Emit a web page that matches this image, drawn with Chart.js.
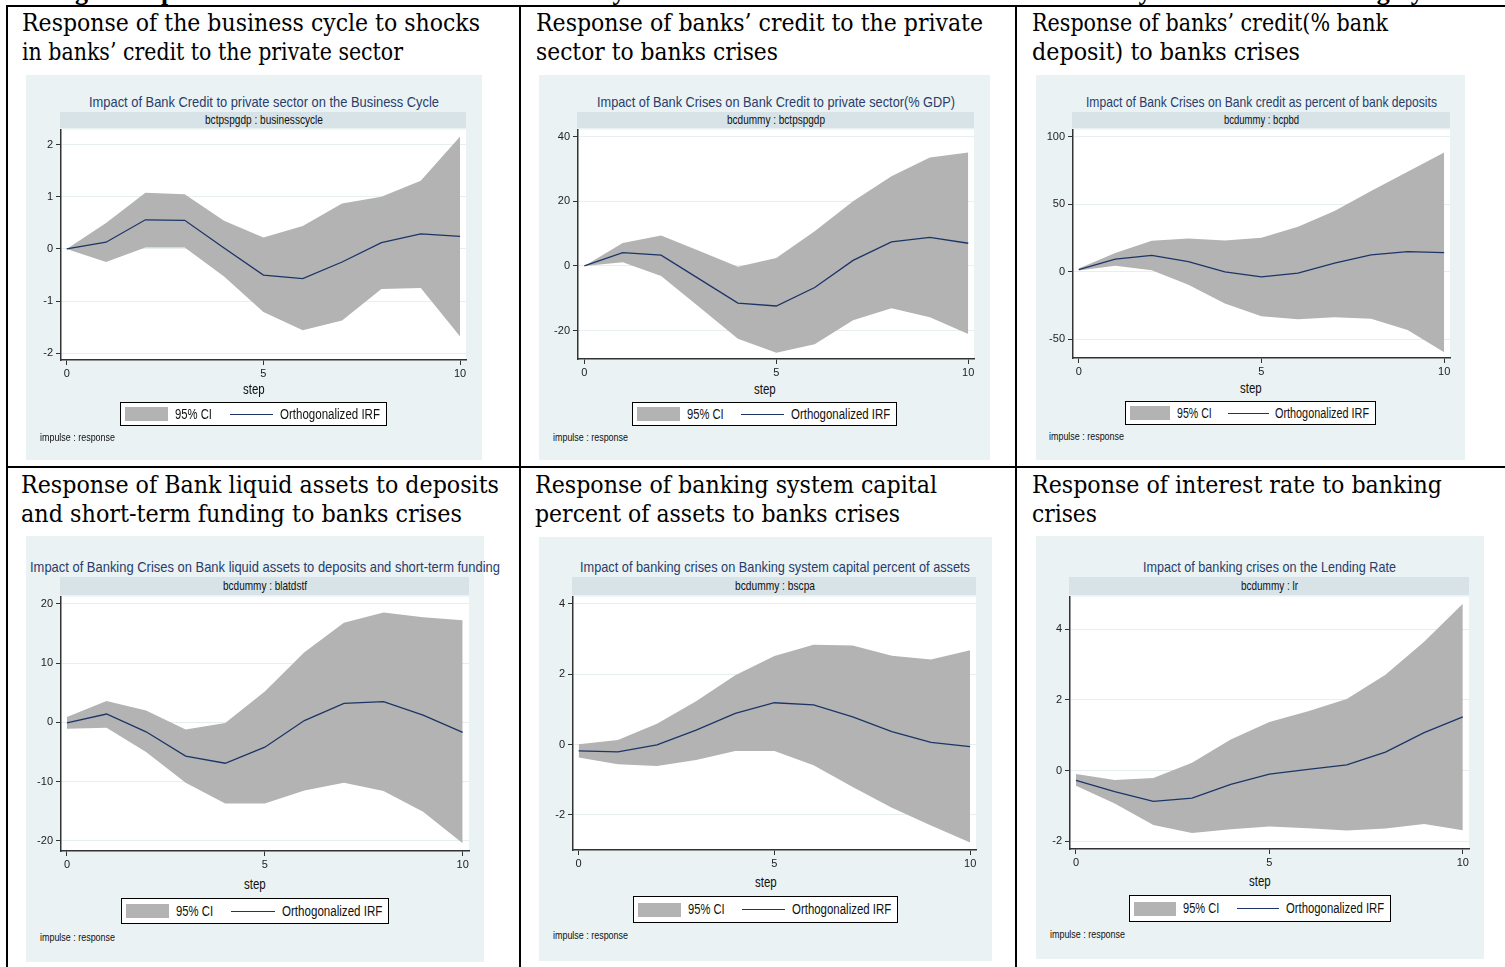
<!DOCTYPE html>
<html lang="en">
<head>
<meta charset="utf-8">
<title>Impulse responses to banking crises</title>
<script src="https://cdn.jsdelivr.net/npm/chart.js@4.4.1/dist/chart.umd.min.js"></script>
<style>
html,body{margin:0;padding:0;background:#fff;}
body{width:1505px;height:967px;position:relative;overflow:hidden;}
.rule{position:absolute;background:#000;}
.txt{position:absolute;white-space:nowrap;transform-origin:0 50%;}
.head{font-family:"DejaVu Serif","Liberation Serif",serif;color:#000;}
.fig{font-family:"Liberation Serif","Times New Roman",serif;font-weight:bold;color:#000;}
.nar{font-family:"Liberation Sans",Arial,sans-serif;color:#111;}
.ttl{color:#283d6b;}
.box{position:absolute;background:#eaf2f3;}
.strip{position:absolute;background:#d8e3e8;}
.legend{position:absolute;background:#fff;border:1px solid #000;box-sizing:border-box;}
.sw{position:absolute;background:#b3b3b3;}
.ln{position:absolute;background:#1c3566;}
canvas{position:absolute;}
</style>
</head>
<body>
<script>
// ---- steps and tick values -------------------------------------------
const steps = [0, 1, 2, 3, 4, 5, 6, 7, 8, 9, 10];
const stepTicks = [0, 5, 10];

// ---- business cycle response to credit shocks ----------------------
const bcIrf = [0, 0.13, 0.56, 0.55, 0.02, -0.50, -0.57, -0.25, 0.12, 0.29, 0.24];
const bcHi  = [0, 0.50, 1.08, 1.05, 0.54, 0.22, 0.44, 0.87, 1.00, 1.31, 2.16];
const bcLo  = [0, -0.25, 0.03, 0.03, -0.53, -1.21, -1.56, -1.37, -0.77, -0.75, -1.68];
const bcTicks = [-2, -1, 0, 1, 2];
const bcRange = [-2.13, 2.29];

// ---- credit to private sector (% GDP) -------------------------------
const gdpIrf = [0, 4.1, 3.3, -4.1, -11.5, -12.4, -6.7, 1.7, 7.4, 8.8, 7.0];
const gdpHi  = [0, 7.1, 9.4, 4.6, -0.3, 2.4, 10.7, 20.0, 27.7, 33.5, 35.1];
const gdpLo  = [0, 1.1, -3.1, -12.8, -22.5, -26.9, -24.2, -16.8, -13.1, -15.9, -21.1];
const gdpTicks = [-20, 0, 20, 40];
const gdpRange = [-28.8, 42.15];

// ---- credit as percent of bank deposits -----------------------------
const depIrf = [1.7, 9.3, 12.2, 7.6, 0, -3.7, -1.0, 6.4, 12.5, 14.9, 14.2];
const depHi  = [2.4, 13.9, 23.0, 24.7, 23.2, 25.2, 33.3, 45.0, 59.7, 73.9, 88.1];
const depLo  = [1.0, 4.4, 1.2, -9.5, -23.5, -32.8, -35.0, -33.5, -34.7, -43.0, -59.4];
const depTicks = [-50, 0, 50, 100];
const depRange = [-63.7, 105.1];

// ---- liquid assets to deposits and short-term funding ---------------
const liqIrf = [-0.1, 1.4, -1.6, -5.7, -6.9, -4.2, 0.3, 3.2, 3.5, 1.2, -1.7];
const liqHi  = [0.9, 3.6, 2.0, -1.2, -0.1, 5.2, 11.8, 16.8, 18.5, 17.7, 17.2];
const liqLo  = [-1.1, -0.9, -5.0, -10.2, -13.7, -13.7, -11.5, -10.2, -11.6, -15.1, -20.4];
const liqTicks = [-20, -10, 0, 10, 20];
const liqRange = [-21.7, 21.2];

// ---- capital percent of assets --------------------------------------
const capIrf = [-0.18, -0.21, -0.01, 0.41, 0.89, 1.19, 1.13, 0.79, 0.37, 0.06, -0.06];
const capHi  = [0.01, 0.13, 0.59, 1.23, 1.97, 2.52, 2.84, 2.82, 2.53, 2.42, 2.68];
const capLo  = [-0.37, -0.56, -0.61, -0.44, -0.18, -0.18, -0.59, -1.21, -1.80, -2.30, -2.79];
const capTicks = [-2, 0, 2, 4];
const capRange = [-3.0, 4.21];

// ---- lending rate ---------------------------------------------------
const lrIrf = [-0.28, -0.60, -0.87, -0.78, -0.39, -0.10, 0.03, 0.16, 0.52, 1.07, 1.52];
const lrHi  = [-0.10, -0.27, -0.21, 0.22, 0.88, 1.37, 1.68, 2.02, 2.71, 3.64, 4.72];
const lrLo  = [-0.43, -0.93, -1.54, -1.77, -1.66, -1.58, -1.63, -1.70, -1.64, -1.51, -1.69];
const lrTicks = [-2, 0, 2, 4];
const lrRange = [-2.22, 4.92];

const CI_GRAY = '#b3b3b3';
const IRF_NAVY = '#1c3566';
const SANS = '"Liberation Sans", Arial, sans-serif';
const NARROW = 0.82;   // horizontal squeeze that gives the condensed graph lettering

// ---- table cells: heading, graph text and page layout ---------------
const panels = [
  { head: ['Response of the business cycle to shocks', 'in banks\u2019 credit to the private sector'], headW: [458, 381], headX: 22, headTop: 9,
    title: 'Impact of Bank Credit to private sector on the Business Cycle', titleW: 350,
    strip: 'bctpspgdp : businesscycle', stripW: 118, irf: bcIrf, hi: bcHi, lo: bcLo, yTicks: bcTicks, yRange: bcRange, xRange: [-0.145, 10.15],
    box: [26, 75, 456, 385], plot: [61, 128, 466, 360], titleCy: 102, stripTop: 112, legend: [120, 402, 267, 24], note: [40, 438], stepCy: 389 },
  { head: ['Response of banks\u2019 credit to the private', 'sector to banks crises'], headW: [447, 242], headX: 536, headTop: 9,
    title: 'Impact of Bank Crises on Bank Credit to private sector(% GDP)', titleW: 358,
    strip: 'bcdummy : bctpspgdp', stripW: 98, irf: gdpIrf, hi: gdpHi, lo: gdpLo, yTicks: gdpTicks, yRange: gdpRange, xRange: [-0.165, 10.15],
    box: [539, 75, 451, 385], plot: [578, 128, 974, 359], titleCy: 102, stripTop: 112, legend: [632, 402, 265, 24], note: [553, 438], stepCy: 389 },
  { head: ['Response of banks\u2019 credit(% bank', 'deposit) to banks crises'], headW: [356, 268], headX: 1032, headTop: 9,
    title: 'Impact of Bank Crises on Bank credit as percent of bank deposits', titleW: 351,
    strip: 'bcdummy : bcpbd', stripW: 75, irf: depIrf, hi: depHi, lo: depLo, yTicks: depTicks, yRange: depRange, xRange: [-0.156, 10.16],
    box: [1036, 75, 429, 385], plot: [1073, 128, 1450, 358], titleCy: 102, stripTop: 112, legend: [1125, 401, 251, 24], note: [1049, 437], stepCy: 388 },
  { head: ['Response of Bank liquid assets to deposits', 'and short-term funding to banks crises'], headW: [478, 441], headX: 21, headTop: 471,
    title: 'Impact of Banking Crises on Bank liquid assets to deposits and short-term funding', titleW: 470,
    strip: 'bcdummy : blatdstf', stripW: 84, irf: liqIrf, hi: liqHi, lo: liqLo, yTicks: liqTicks, yRange: liqRange, xRange: [-0.15, 10.16],
    box: [26, 536, 458, 426], plot: [61, 595, 469, 851], titleCy: 567, stripTop: 577, legend: [121, 898, 268, 26], note: [40, 938], stepCy: 884 },
  { head: ['Response of banking system capital', 'percent of assets to banks crises'], headW: [402, 365], headX: 535, headTop: 471,
    title: 'Impact of banking crises on Banking system capital percent of assets', titleW: 390,
    strip: 'bcdummy : bscpa', stripW: 80, irf: capIrf, hi: capHi, lo: capLo, yTicks: capTicks, yRange: capRange, xRange: [-0.145, 10.15],
    box: [539, 537, 453, 424], plot: [573, 595, 976, 850], titleCy: 567, stripTop: 577, legend: [633, 896, 265, 27], note: [553, 936], stepCy: 882 },
  { head: ['Response of interest rate to banking', 'crises'], headW: [410, 65], headX: 1032, headTop: 471,
    title: 'Impact of banking crises on the Lending Rate', titleW: 253,
    strip: 'bcdummy : lr', stripW: 57, irf: lrIrf, hi: lrHi, lo: lrLo, yTicks: lrTicks, yRange: lrRange, xRange: [-0.155, 10.16],
    box: [1036, 536, 448, 423], plot: [1070, 595, 1469, 849], titleCy: 567, stripTop: 577, legend: [1129, 895, 262, 27], note: [1050, 935], stepCy: 881 }
];

// ---- small DOM helpers ----------------------------------------------
function el(cls, x, y, w, h, parent) {
  const d = document.createElement('div');
  d.className = cls;
  d.style.left = x + 'px'; d.style.top = y + 'px';
  if (w != null) d.style.width = w + 'px';
  if (h != null) d.style.height = h + 'px';
  (parent || document.body).appendChild(d);
  return d;
}
// condensed sans text centred vertically on cy, squeezed to a width
function text(cls, str, x, cy, size, width, align) {
  const d = document.createElement('div');
  d.className = 'txt nar ' + cls;
  d.textContent = str;
  d.style.fontSize = size + 'px';
  d.style.lineHeight = Math.round(size * 1.2) + 'px';
  d.style.top = (cy - size * 0.6) + 'px';
  d.style.left = '0px';
  document.body.appendChild(d);
  const nat = d.getBoundingClientRect().width;
  const w = width || nat * NARROW;
  d.style.left = (align === 'center' ? x - w / 2 : x) + 'px';
  d.style.transform = 'scaleX(' + (w / nat) + ')';
  return d;
}

// ---- table rules ------------------------------------------------------
el('rule', 6, 5, 1499, 2);
el('rule', 6, 5, 2, 962);
el('rule', 519, 5, 2, 962);
el('rule', 1015, 5, 2, 962);
el('rule', 6, 466, 1499, 2);

// figure caption running off the top edge
const cap = document.createElement('div');
cap.className = 'txt fig';
cap.style.fontSize = '26px'; cap.style.lineHeight = '26px';
cap.style.left = '52px'; cap.style.top = '-21px';
cap.textContent = 'Fig. 1: Impulse Reaction Functions of the Monetary and Financial Sector Indicators to the Stability of the Local Banking System';
document.body.appendChild(cap);

// white plotting region behind the bands
const plotBg = {
  id: 'plotBg',
  beforeDraw(c) {
    const a = c.chartArea, ctx = c.ctx;
    ctx.save();
    ctx.fillStyle = '#ffffff';
    ctx.fillRect(a.left, a.top, a.right - a.left, a.bottom - a.top);
    ctx.restore();
  }
};

panels.forEach(p => {
  // cell heading
  p.head.forEach((line, i) => {
    const d = document.createElement('div');
    d.className = 'txt head';
    d.style.fontSize = '24px'; d.style.lineHeight = '29px';
    d.style.left = p.headX + 'px'; d.style.top = (p.headTop + 29 * i) + 'px';
    d.textContent = line;
    document.body.appendChild(d);
    const nat = d.getBoundingClientRect().width;
    d.style.transform = 'scaleX(' + (p.headW[i] / nat) + ')';
  });

  const [bx, by, bw, bh] = p.box;
  const [pl, pt, pr, pb] = p.plot;
  el('box', bx, by, bw, bh);
  el('strip', pl - 1, p.stripTop, pr - pl + 1, pt - p.stripTop);

  const stripCx = (pl + pr) / 2;
  text('ttl', p.title, stripCx, p.titleCy, 15, p.titleW, 'center');
  text('', p.strip, stripCx, (p.stripTop + pt) / 2, 13, p.stripW, 'center');

  // chart canvas: plot area plus the axes around it
  const axisH = 22, padTop = 8;
  const cv = document.createElement('canvas');
  const cw = bw, ch = (pb - pt) + padTop + axisH;
  cv.width = cw; cv.height = ch;
  cv.style.width = cw + 'px'; cv.style.height = ch + 'px';
  cv.style.left = bx + 'px'; cv.style.top = (pt - padTop) + 'px';
  document.body.appendChild(cv);

  const pts = arr => arr.map((v, i) => ({ x: steps[i], y: v }));
  const tickFont = { family: SANS, size: 11 };

  new Chart(cv, {
    type: 'line',
    data: {
      datasets: [
        { label: '95% CI', data: pts(p.hi), borderWidth: 0, pointRadius: 0, backgroundColor: CI_GRAY, fill: '+1', order: 2 },
        { label: '95% CI lower', data: pts(p.lo), borderWidth: 0, pointRadius: 0, fill: false, order: 1 },
        { label: 'Orthogonalized IRF', data: pts(p.irf), borderColor: IRF_NAVY, borderWidth: 1.3, pointRadius: 0, fill: false, tension: 0, order: 0 }
      ]
    },
    options: {
      responsive: false,
      animation: false,
      devicePixelRatio: 1,
      layout: { padding: { top: padTop, right: bx + bw - pr, left: 0, bottom: 0 } },
      plugins: { legend: { display: false }, tooltip: { enabled: false }, title: { display: false } },
      scales: {
        x: {
          type: 'linear', min: p.xRange[0], max: p.xRange[1],
          afterBuildTicks: s => { s.ticks = stepTicks.map(v => ({ value: v })); },
          afterFit: s => { s.height = axisH; },
          ticks: { font: tickFont, color: '#222', padding: 2, maxRotation: 0, callback: v => String(v) },
          grid: { drawOnChartArea: false, tickLength: 5, tickColor: '#333', tickWidth: 1 },
          border: { color: '#333', width: 1.5 }
        },
        y: {
          type: 'linear', min: p.yRange[0], max: p.yRange[1],
          afterBuildTicks: s => { s.ticks = p.yTicks.map(v => ({ value: v })); },
          afterFit: s => { s.width = pl - bx; },
          ticks: { font: tickFont, color: '#222', padding: 3, callback: v => String(v) },
          grid: { color: '#e6eef0', lineWidth: 1, tickLength: 5, tickColor: '#333', tickWidth: 1 },
          border: { color: '#333', width: 1.5 }
        }
      }
    },
    plugins: [plotBg]
  });

  // axis title, legend and note
  text('', 'step', bx + bw / 2, p.stepCy, 14, null, 'center');

  const [lx, ly, lw, lh] = p.legend;
  const k = lw / 267;
  const lg = el('legend', lx, ly, lw, lh);
  el('sw', 4 * k, (lh - 2 - 14) / 2, 43 * k, 14, lg);
  el('ln', 109 * k, (lh - 2) / 2 - 0.5, 43 * k, 1.3, lg);
  text('', '95% CI', lx + 55 * k, ly + lh / 2, 14, 37 * k, 'left');
  text('', 'Orthogonalized IRF', lx + 160 * k, ly + lh / 2, 14, 100 * k, 'left');

  text('', 'impulse : response', p.note[0], p.note[1], 11, 75, 'left');
});
</script>
</body>
</html>
